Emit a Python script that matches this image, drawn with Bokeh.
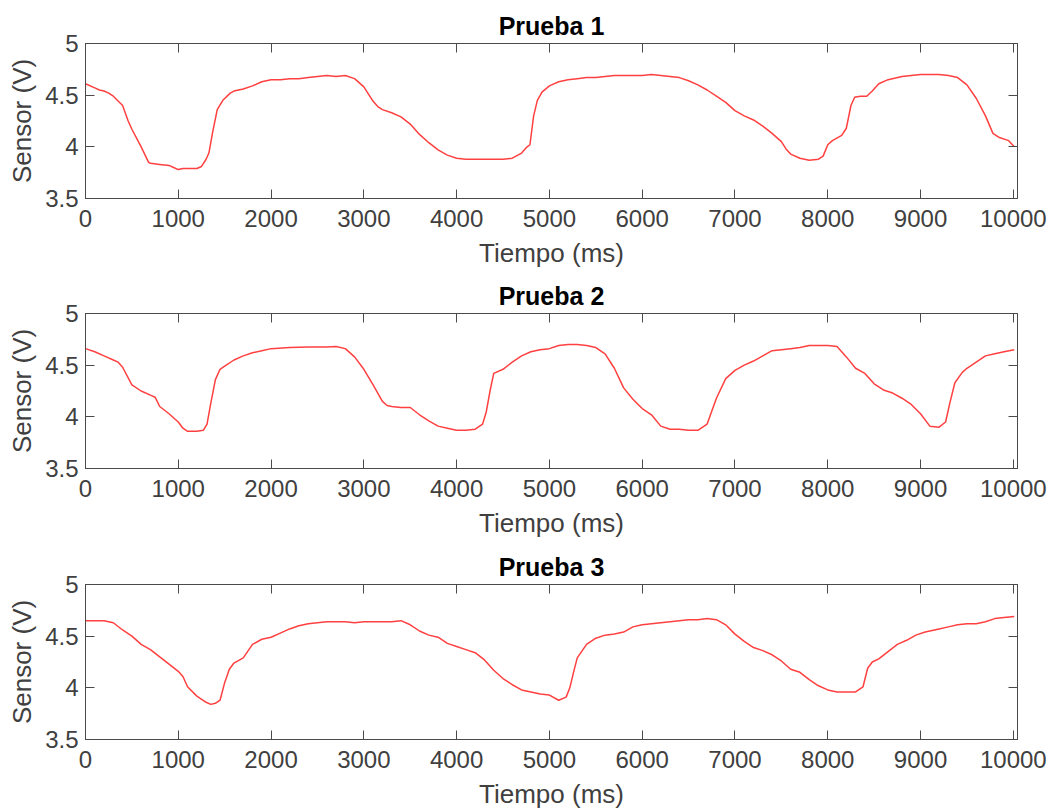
from bokeh.plotting import figure
from bokeh.layouts import column
from bokeh.models import Range1d, LinearAxis, FixedTicker, CustomJSTickFormatter
from bokeh.embed import file_html
from bokeh.resources import INLINE

# --- data: sensor voltage (V) against time (ms) for three trials ---
t1 = [0, 100, 150, 200, 250, 300, 400, 460, 500, 600, 680, 700, 800, 900, 950, 1000,
      1050, 1100, 1200, 1250, 1300, 1330, 1370, 1420, 1480, 1560, 1600, 1700, 1800,
      1900, 2000, 2100, 2200, 2300, 2400, 2500, 2600, 2700, 2800, 2900, 3000, 3100,
      3150, 3200, 3300, 3400, 3500, 3600, 3700, 3800, 3900, 4000, 4100, 4200, 4300,
      4400, 4500, 4600, 4700, 4760, 4790, 4830, 4870, 4920, 5000, 5100, 5200, 5300,
      5400, 5500, 5600, 5700, 5800, 5900, 6000, 6100, 6200, 6300, 6400, 6500, 6600,
      6700, 6800, 6900, 7000, 7100, 7200, 7300, 7400, 7500, 7550, 7600, 7700, 7800,
      7900, 7950, 8000, 8050, 8150, 8200, 8250, 8290, 8350, 8420, 8480, 8550, 8650,
      8800, 9000, 9100, 9200, 9300, 9400, 9500, 9600, 9700, 9780, 9850, 9950, 10010]
v1 = [4.61, 4.57, 4.55, 4.54, 4.52, 4.49, 4.40, 4.25, 4.17, 4.00, 3.85, 3.84, 3.83, 3.82,
      3.80, 3.78, 3.79, 3.79, 3.79, 3.81, 3.88, 3.94, 4.14, 4.36, 4.45, 4.52, 4.54, 4.56,
      4.59, 4.63, 4.65, 4.65, 4.66, 4.66, 4.67, 4.68, 4.69, 4.68, 4.69, 4.66, 4.58, 4.44,
      4.39, 4.36, 4.33, 4.29, 4.22, 4.12, 4.04, 3.97, 3.92, 3.89, 3.88, 3.88, 3.88, 3.88,
      3.88, 3.89, 3.94, 4.00, 4.02, 4.30, 4.45, 4.53, 4.59, 4.63, 4.65, 4.66, 4.67, 4.67,
      4.68, 4.69, 4.69, 4.69, 4.69, 4.70, 4.69, 4.68, 4.67, 4.64, 4.60, 4.55, 4.49, 4.43,
      4.35, 4.30, 4.26, 4.20, 4.13, 4.05, 3.98, 3.93, 3.89, 3.87, 3.88, 3.91, 4.02, 4.06,
      4.11, 4.18, 4.40, 4.48, 4.49, 4.49, 4.54, 4.61, 4.65, 4.68, 4.70, 4.70, 4.70, 4.69,
      4.67, 4.60, 4.47, 4.30, 4.13, 4.09, 4.06, 4.00]

t2 = [0, 100, 200, 300, 350, 400, 500, 600, 700, 750, 800, 900, 1000, 1050, 1100, 1200,
      1270, 1310, 1350, 1400, 1450, 1500, 1600, 1700, 1800, 1900, 2000, 2200, 2400, 2600,
      2700, 2800, 2900, 3000, 3100, 3200, 3250, 3300, 3400, 3500, 3600, 3700, 3800, 3900,
      4000, 4100, 4200, 4280, 4320, 4360, 4400, 4500, 4600, 4700, 4800, 4900, 5000, 5100,
      5200, 5300, 5400, 5500, 5600, 5700, 5800, 5900, 6000, 6100, 6200, 6300, 6400, 6500,
      6600, 6700, 6800, 6900, 7000, 7100, 7200, 7300, 7400, 7500, 7600, 7700, 7800, 7900,
      8000, 8100, 8200, 8300, 8400, 8500, 8600, 8700, 8800, 8900, 9000, 9100, 9200, 9270,
      9320, 9370, 9450, 9500, 9600, 9700, 9800, 9900, 10010]
v2 = [4.66, 4.63, 4.59, 4.55, 4.53, 4.48, 4.31, 4.25, 4.21, 4.19, 4.10, 4.03, 3.95, 3.89,
      3.86, 3.86, 3.87, 3.93, 4.13, 4.36, 4.46, 4.49, 4.55, 4.59, 4.62, 4.64, 4.66, 4.67,
      4.675, 4.675, 4.68, 4.66, 4.58, 4.46, 4.31, 4.15, 4.11, 4.10, 4.09, 4.09, 4.02, 3.96,
      3.91, 3.89, 3.87, 3.87, 3.88, 3.93, 4.05, 4.25, 4.42, 4.46, 4.53, 4.59, 4.63, 4.65,
      4.66, 4.69, 4.70, 4.70, 4.69, 4.67, 4.61, 4.47, 4.28, 4.17, 4.08, 4.02, 3.91, 3.88,
      3.88, 3.87, 3.87, 3.93, 4.18, 4.37, 4.45, 4.50, 4.54, 4.59, 4.64, 4.65, 4.66, 4.67,
      4.69, 4.69, 4.69, 4.68, 4.58, 4.47, 4.42, 4.32, 4.26, 4.23, 4.18, 4.12, 4.03, 3.91,
      3.90, 3.95, 4.15, 4.33, 4.43, 4.47, 4.53, 4.59, 4.61, 4.63, 4.65]

t3 = [0, 100, 200, 300, 400, 500, 600, 700, 800, 900, 1000, 1050, 1100, 1200, 1300, 1350,
      1400, 1450, 1500, 1550, 1600, 1700, 1800, 1900, 2000, 2100, 2200, 2300, 2400, 2500,
      2600, 2700, 2800, 2900, 3000, 3100, 3200, 3300, 3400, 3500, 3600, 3700, 3800, 3900,
      4000, 4100, 4200, 4300, 4400, 4500, 4600, 4700, 4800, 4900, 5000, 5100, 5180, 5220,
      5260, 5300, 5400, 5500, 5600, 5700, 5800, 5900, 6000, 6100, 6200, 6300, 6400, 6500,
      6600, 6700, 6800, 6900, 7000, 7100, 7200, 7300, 7400, 7500, 7600, 7700, 7800, 7900,
      8000, 8100, 8200, 8300, 8380, 8430, 8480, 8550, 8650, 8750, 8850, 8950, 9050, 9200,
      9300, 9400, 9500, 9600, 9700, 9800, 9900, 10010]
v3 = [4.65, 4.65, 4.65, 4.63, 4.56, 4.50, 4.42, 4.37, 4.30, 4.23, 4.16, 4.11, 4.01, 3.92,
      3.86, 3.84, 3.85, 3.88, 4.05, 4.18, 4.24, 4.29, 4.42, 4.47, 4.49, 4.53, 4.57, 4.60,
      4.62, 4.63, 4.64, 4.64, 4.64, 4.63, 4.64, 4.64, 4.64, 4.64, 4.65, 4.61, 4.55, 4.51,
      4.49, 4.43, 4.40, 4.37, 4.34, 4.27, 4.17, 4.09, 4.03, 3.98, 3.96, 3.94, 3.93, 3.88,
      3.91, 4.00, 4.15, 4.29, 4.42, 4.48, 4.51, 4.52, 4.54, 4.59, 4.61, 4.62, 4.63, 4.64,
      4.65, 4.66, 4.66, 4.67, 4.66, 4.61, 4.52, 4.45, 4.39, 4.36, 4.32, 4.26, 4.18, 4.15,
      4.08, 4.02, 3.98, 3.96, 3.96, 3.96, 4.01, 4.19, 4.25, 4.28, 4.35, 4.42, 4.46, 4.51,
      4.54, 4.57, 4.59, 4.61, 4.62, 4.62, 4.64, 4.67, 4.68, 4.69]

titles = ["Prueba 1", "Prueba 2", "Prueba 3"]
x_ticks = [0, 1000, 2000, 3000, 4000, 5000, 6000, 7000, 8000, 9000, 10000]
y_ticks = [3.5, 4, 4.5, 5]

FONT = "Liberation Sans"
BOX = "#4a4a4a"
TXT = "#404040"
LINE = "#ff2b2b"


def style_axis(ax, ticks, labels=True):
    ax.ticker = FixedTicker(ticks=ticks)
    ax.major_tick_in = 9
    ax.major_tick_out = 0
    ax.minor_tick_in = 0
    ax.minor_tick_out = 0
    ax.axis_line_color = BOX
    ax.major_tick_line_color = BOX
    ax.major_label_text_font = FONT
    ax.major_label_text_color = TXT
    if labels:
        ax.major_label_text_font_size = "24px"
    else:
        ax.major_label_text_font_size = "1px"
        ax.major_label_standoff = 0
        ax.formatter = CustomJSTickFormatter(code="return ''")


def panel(title, t, v, top):
    p = figure(frame_width=932, frame_height=155,
               min_border_left=85, min_border_right=34,
               min_border_top=top, min_border_bottom=72,
               x_range=Range1d(0, 10045), y_range=Range1d(3.5, 5),
               output_backend="svg", toolbar_location=None,
               x_axis_label="Tiempo (ms)", y_axis_label="Sensor (V)")
    p.xgrid.visible = False
    p.ygrid.visible = False
    p.outline_line_color = BOX
    p.outline_line_width = 1
    p.background_fill_color = "white"
    p.border_fill_color = "white"

    p.title.text = title
    p.title.text_font = FONT
    p.title.text_font_size = "25px"
    p.title.text_font_style = "bold"
    p.title.text_color = "#000000"
    p.title.align = "center"
    p.title.standoff = 8

    xa = p.xaxis[0]
    style_axis(xa, x_ticks)
    xa.major_label_standoff = 11
    ya = p.yaxis[0]
    style_axis(ya, y_ticks)
    ya.formatter = CustomJSTickFormatter(code="return tick.toString()")
    ya.major_label_standoff = 7
    for ax in (xa, ya):
        ax.axis_label_text_font = FONT
        ax.axis_label_text_font_size = "26px"
        ax.axis_label_text_font_style = "normal"
        ax.axis_label_text_color = TXT
    xa.axis_label_standoff = 8
    ya.axis_label_standoff = 5

    top_ax = LinearAxis()
    style_axis(top_ax, x_ticks, labels=False)
    p.add_layout(top_ax, "above")
    right_ax = LinearAxis()
    style_axis(right_ax, y_ticks, labels=False)
    p.add_layout(right_ax, "right")

    p.line(t, v, line_color=LINE, line_width=1.5, line_alpha=0.9)
    return p


p1 = panel(titles[0], t1, v1, 43)
p2 = panel(titles[1], t2, v2, 43)
p3 = panel(titles[2], t3, v3, 44)
layout = column(p1, p2, p3, spacing=0)

open("out.html", "w").write(file_html(layout, INLINE))
